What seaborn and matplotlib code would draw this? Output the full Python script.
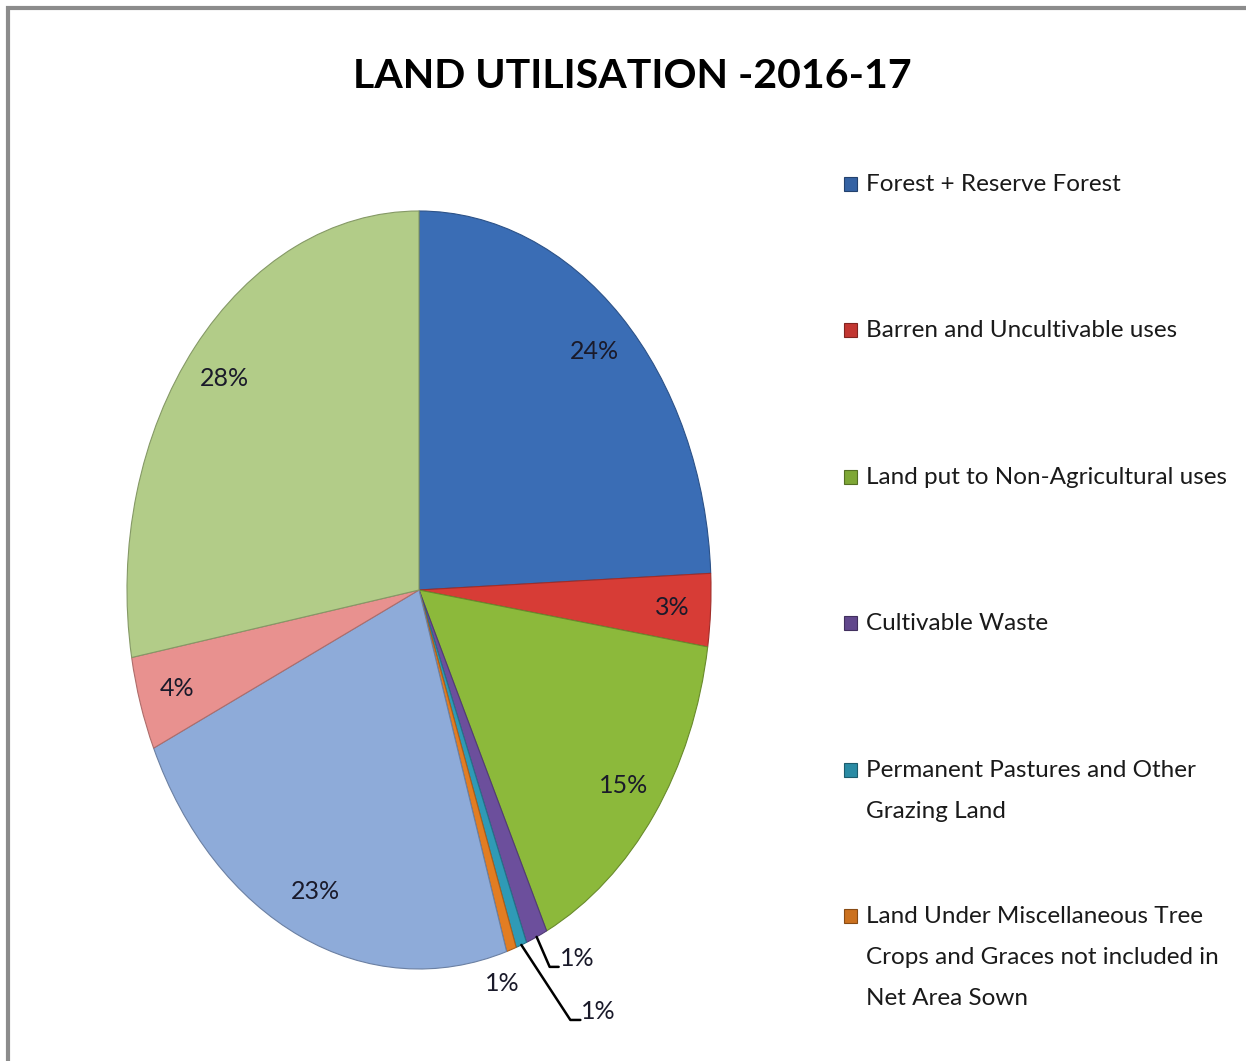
import numpy as np
import matplotlib
matplotlib.use("Agg")
import matplotlib.pyplot as plt
from matplotlib.patches import Rectangle
import matplotlib.colors as mcolors
import seaborn as sns

# ---------------- data ----------------
categories = [
    "Forest + Reserve Forest",
    "Barren and Uncultivable uses",
    "Land put to Non-Agricultural uses",
    "Cultivable Waste",
    "Permanent Pastures and Other\nGrazing Land",
    "Land Under Miscellaneous Tree\nCrops and Graces not included in\nNet Area Sown",
    "Current Fallows",
    "Other Fallows",
    "Net Area Sown",
]
shares = [24.3, 3.1, 15.4, 1.2, 0.6, 0.55, 23.0, 4.0, 27.85]
pct_labels = ["24%", "3%", "15%", "1%", "1%", "1%", "23%", "4%", "28%"]
legend_count = 6
title = "LAND UTILISATION -2016-17"

colors = ["#3a6db5", "#d73c36", "#8cb93b", "#6c4f9c", "#2f9ab6",
          "#e27d22", "#8eabd9", "#e8918f", "#b2cc88"]

# ---------------- style ----------------
sns.set_theme(style="white")
plt.rcParams["font.family"] = ["Lato", "DejaVu Sans"]

W, H = 1246, 1061
fig = plt.figure(figsize=(W / 100, H / 100), dpi=100)
fig.patch.set_facecolor("white")

# chart-area frame (top and left visible)
fig.patches.append(Rectangle((8 / W, -0.05), 1.1, 1 - 8 / H + 0.05, transform=fig.transFigure,
                             fill=False, edgecolor="#8c8c8c", linewidth=3))

# axes stretched so the pie is an ellipse
left, right, top, bottom = 127, 711, 211, 969
ax = fig.add_axes([left / W, 1 - bottom / H, (right - left) / W, (bottom - top) / H])

wedges, texts, autotexts = ax.pie(
    shares, colors=colors, startangle=90, counterclock=False, radius=1.0,
    autopct="%1.0f%%", pctdistance=0.87,
    wedgeprops=dict(linewidth=0.8),
    textprops=dict(fontsize=18, color="#1a1a2a"),
)
ax.set_aspect("auto")
ax.set_xlim(-1, 1)
ax.set_ylim(-1, 1)
ax.axis("off")

for w, c in zip(wedges, colors):
    rgb = np.array(mcolors.to_rgb(c)) * 0.75
    w.set_edgecolor(rgb)

for t, lab, s in zip(autotexts, pct_labels, shares):
    t.set_text(lab)
    if s < 1.5:
        t.set_visible(False)

fig.canvas.draw()


def edge_px(w):
    th = np.deg2rad((w.theta1 + w.theta2) / 2)
    return ax.transData.transform((np.cos(th), np.sin(th)))


def leader(w, offs, text, toff, ha="left", va="bottom"):
    x0, y0 = edge_px(w)
    pts = [(x0, y0)] + [(x0 + dx, y0 + dy) for dx, dy in offs]
    if len(pts) > 1:
        d = ax.transData.inverted().transform(pts)
        ax.plot(d[:, 0], d[:, 1], color="black", lw=1.8, clip_on=False)
    tx, ty = ax.transData.inverted().transform((x0 + toff[0], y0 + toff[1]))
    ax.text(tx, ty, text, fontsize=18, color="#1a1a2a", ha=ha, va=va, clip_on=False)


leader(wedges[3], [(13, -30), (22, -30)], pct_labels[3], (23, -33))
leader(wedges[4], [(49, -75), (59, -75)], pct_labels[4], (60, -78))
leader(wedges[5], [], pct_labels[5], (-9, -34), ha="center", va="center")

# title
fig.text(632 / W, 1 - 76 / H, title, ha="center", va="center",
         fontsize=29.5, fontweight="bold", color="black")

# manual legend (first six categories)
leg_y = [184, 330, 477, 623, 770, 916]
for i in range(legend_count):
    y = leg_y[i]
    rgb = np.array(mcolors.to_rgb(colors[i]))
    fig.patches.append(Rectangle((844 / W, 1 - (y + 7) / H), 13 / W, 14 / H,
                                 transform=fig.transFigure, facecolor=rgb * 0.9,
                                 edgecolor=rgb * 0.6, linewidth=0.8))
    fig.text(866 / W, 1 - (y - 10) / H, categories[i], ha="left", va="top",
             fontsize=17.5, color="#1a1a1a", linespacing=2.17)

fig.savefig("out.png", dpi=100, facecolor="white")
